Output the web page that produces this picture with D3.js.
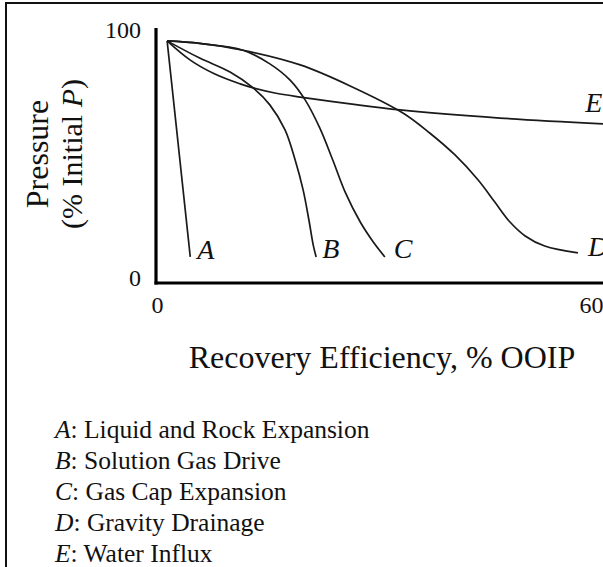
<!DOCTYPE html>
<html>
<head>
<meta charset="utf-8">
<script src="https://cdn.jsdelivr.net/npm/d3@7/dist/d3.min.js"></script>
<style>
  html, body { margin: 0; padding: 0; background: #fff; }
  svg { display: block; }
  text { font-family: "Liberation Serif", "Times New Roman", serif; fill: #111; }
</style>
</head>
<body>
<svg id="chart" width="603" height="567"></svg>
<script>
// ---- data ----
const seriesNames = ["A", "B", "C", "D", "E"];
const legendLabels = [
  "Liquid and Rock Expansion",
  "Solution Gas Drive",
  "Gas Cap Expansion",
  "Gravity Drainage",
  "Water Influx"
];
const xTicks = [0, 60];
const yTicks = [0, 100];
const seriesA = [[1.4, 95.7], [4.6, 10.3]];
const seriesB = [[1.4, 95.7], [5.9, 88.9], [10.1, 83.4], [13.3, 77.1], [15.6, 70.4], [17.7, 60.5], [19.1, 48.6], [20.2, 36.8], [21.0, 24.9], [21.6, 15.0], [22.0, 10.3]];
const seriesC = [[1.4, 95.7], [5.9, 94.7], [11.9, 92.0], [15.6, 86.6], [18.4, 80.2], [20.5, 72.3], [22.5, 61.3], [24.3, 48.6], [26.0, 36.0], [28.1, 24.1], [29.9, 16.2], [31.5, 10.3]];
const seriesD = [[1.4, 95.7], [5.9, 94.7], [11.9, 92.0], [19.8, 86.2], [26.7, 77.9], [34.0, 67.2], [37.7, 59.3], [41.2, 50.6], [44.4, 40.7], [46.7, 32.0], [48.8, 24.1], [50.9, 18.6], [53.6, 14.6], [58.2, 11.9]];
const seriesE = [[1.4, 95.7], [4.6, 88.1], [8.0, 82.6], [11.5, 78.7], [13.3, 77.1], [16.3, 75.1], [19.8, 73.5], [26.7, 70.8], [33.6, 68.4], [47.4, 65.2], [61.7, 62.9]];
const xTitle = "Recovery Efficiency, % OOIP";
const yTitle1 = "Pressure";
const yTitle2 = "(% Initial ";

// ---- drawing ----
const svg = d3.select("#chart");
const W = 603, H = 567;

// frame (cropped picture: only top and left borders visible)
svg.append("path").attr("d", `M6,${H} V3 H${W}`).attr("fill", "none")
  .attr("stroke", "#111").attr("stroke-width", 2);

const x = d3.scaleLinear().domain([0, 60]).range([157, 591]);
const y = d3.scaleLinear().domain([0, 100]).range([283, 30]);

const line = d3.line().x(d => x(d[0])).y(d => y(d[1])).curve(d3.curveCatmullRom.alpha(0.5));
const all = [seriesA, seriesB, seriesC, seriesD, seriesE];

const gLines = svg.append("g");
all.forEach(s => {
  gLines.append("path").attr("d", line(s)).attr("fill", "none")
    .attr("stroke", "#1a1a1a").attr("stroke-width", 1.7).attr("stroke-linejoin", "round");
});

// axes
const yAxis = svg.append("g").attr("transform", `translate(${x(0) - 1},0)`)
  .call(d3.axisLeft(y).tickValues(yTicks).tickSize(0).tickPadding(15).tickFormat(d3.format("d")));
yAxis.select(".domain").attr("stroke", "#000").attr("stroke-width", 3.2).attr("d", `M0,${y(0)+1.5}V${y(100) - 2}`);
yAxis.selectAll(".tick text").attr("font-size", 24).attr("font-family", "Liberation Serif").attr("fill", "#111")
  .attr("dy", d => d === 0 ? "0.12em" : "0.32em");

const xAxis = svg.append("g").attr("transform", `translate(0,${y(0)})`)
  .call(d3.axisBottom(x).tickValues(xTicks).tickSize(0).tickPadding(13).tickFormat(d3.format("d")));
xAxis.select(".domain").attr("stroke", "#000").attr("stroke-width", 3.2).attr("d", `M${x(0) - 2.5},0H${W + 5}`);
xAxis.selectAll(".tick text").attr("font-size", 24).attr("font-family", "Liberation Serif").attr("fill", "#111");

// curve end labels
const endOffsets = { A: [7, 2], B: [6, 1], C: [9, 1], D: [10, 3] };
const gLab = svg.append("g");
[seriesA, seriesB, seriesC, seriesD].forEach((s, i) => {
  const name = seriesNames[i];
  const last = s[s.length - 1];
  gLab.append("text").attr("x", x(last[0]) + endOffsets[name][0]).attr("y", y(last[1]) + endOffsets[name][1])
    .attr("font-size", 28).attr("font-style", "italic").text(name);
});
gLab.append("text").attr("x", x(59.2)).attr("y", y(67.6))
  .attr("font-size", 28).attr("font-style", "italic").text(seriesNames[4]);

// axis titles
svg.append("text").attr("x", 382).attr("y", 368).attr("text-anchor", "middle")
  .attr("font-size", 32).text(xTitle);

const yt = svg.append("g").attr("transform", "translate(48,154) rotate(-90)");
yt.append("text").attr("text-anchor", "middle").attr("font-size", 32).text(yTitle1);
const yt2 = svg.append("g").attr("transform", "translate(82,154) rotate(-90)");
const t2 = yt2.append("text").attr("text-anchor", "middle").attr("font-size", 30);
t2.append("tspan").text(yTitle2);
t2.append("tspan").attr("font-style", "italic").text("P");
t2.append("tspan").text(")");

// legend
const gLeg = svg.append("g");
legendLabels.forEach((lab, i) => {
  const t = gLeg.append("text").attr("x", 55).attr("y", 438 + i * 31).attr("font-size", 25.5);
  t.append("tspan").attr("font-style", "italic").text(seriesNames[i]);
  t.append("tspan").text(": " + lab);
});
</script>
</body>
</html>
